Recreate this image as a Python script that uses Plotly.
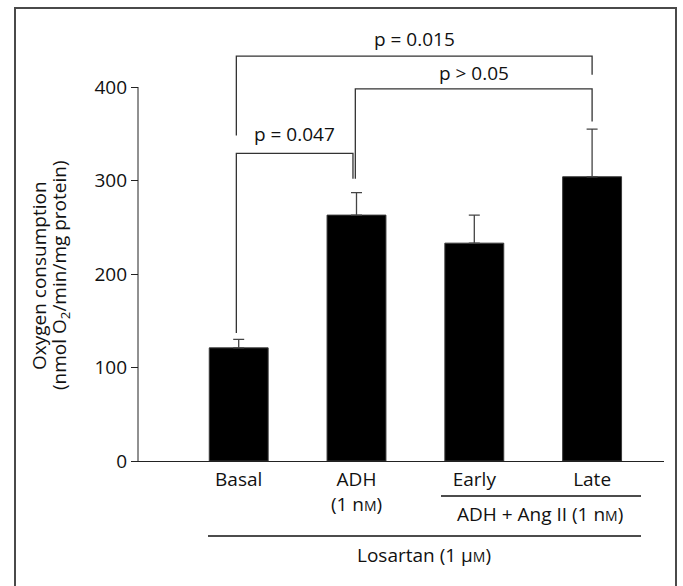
import plotly.graph_objects as go

# ---- data ----
categories = ["Basal", "ADH", "Early", "Late"]
tick_labels = ["Basal", "ADH<br>(1 n<span style='font-size:14px'>M</span>)", "Early", "Late"]
means = [121, 263, 233, 304]
errors = [9, 24, 30, 51]

# comparisons: (left index, right index, label, bracket height, left leg end, right leg end)
cmp_left = [0, 0, 1]
cmp_right = [1, 3, 3]
cmp_labels = ["p = 0.047", "p = 0.015", "p > 0.05"]
cmp_height = [329, 433, 398]
cmp_left_end = [137, 348, 302]
cmp_right_end = [302, 413, 363]
cmp_text_y = [350, 451, 415]
cmp_left_off = [-0.02, -0.02, -0.01]
cmp_right_off = [-0.03, 0.0, 0.0]

y_ticks = [0, 100, 200, 300, 400]

# ---- layout geometry (pixels) ----
W, H = 683, 586
ML, MR, MT, MB = 131, 19, 30, 125
PW, PH = W - ML - MR, H - MT - MB
px_per_unit_x = 117.8
x0_px = 238.7
px_per_unit_y = 0.935

x_lo = (ML - x0_px) / px_per_unit_x
x_hi = (W - MR - x0_px) / px_per_unit_x
y_hi = PH / px_per_unit_y

def xp(px):
    return (px - ML) / PW

def yp(py):
    return (H - MB - py) / PH

FONT = "Open Sans"
TXT = "#111111"
LINE = "#444444"

xs = list(range(len(categories)))

fig = go.Figure()
fig.add_trace(go.Bar(
    x=xs, y=means, width=0.5,
    marker=dict(color="#000000", line=dict(color="#3a3a3a", width=1)),
    error_y=dict(type="data", array=errors, arrayminus=[0] * len(errors), symmetric=False,
                 color=LINE, thickness=1.3, width=5.5),
    showlegend=False,
))

shapes = []
annotations = []

# y axis line (0 to 400)
x_axis_line = (138 - x0_px) / px_per_unit_x
shapes.append(dict(type="line", xref="x", yref="y", x0=x_axis_line, x1=x_axis_line,
                   y0=0, y1=max(y_ticks), line=dict(color="#222222", width=1)))

# comparison brackets
for i in range(len(cmp_labels)):
    xl = xs[cmp_left[i]] + cmp_left_off[i]
    xr = xs[cmp_right[i]] + cmp_right_off[i]
    h = cmp_height[i]
    path = f"M {xl},{cmp_left_end[i]} L {xl},{h} L {xr},{h} L {xr},{cmp_right_end[i]}"
    shapes.append(dict(type="path", xref="x", yref="y", path=path,
                       line=dict(color="#333333", width=1.3)))
    annotations.append(dict(x=(xl + xr) / 2, y=cmp_text_y[i], xref="x", yref="y",
                            text=cmp_labels[i], showarrow=False,
                            font=dict(family=FONT, size=19, color=TXT),
                            xanchor="center", yanchor="middle"))

# grouping lines below axis
shapes.append(dict(type="line", xref="paper", yref="paper", x0=xp(441), x1=xp(641),
                   y0=yp(496), y1=yp(496), line=dict(color="#111111", width=1.3)))
shapes.append(dict(type="line", xref="paper", yref="paper", x0=xp(208), x1=xp(641),
                   y0=yp(536), y1=yp(536), line=dict(color="#111111", width=1.3)))
annotations.append(dict(x=xp(540), y=yp(514), xref="paper", yref="paper",
                        text="ADH + Ang II (1 n<span style='font-size:14px'>M</span>)",
                        showarrow=False, font=dict(family=FONT, size=19, color=TXT),
                        xanchor="center", yanchor="middle"))
annotations.append(dict(x=xp(424), y=yp(555), xref="paper", yref="paper",
                        text="Losartan (1 μ<span style='font-size:14px'>M</span>)",
                        showarrow=False, font=dict(family=FONT, size=19, color=TXT),
                        xanchor="center", yanchor="middle"))

# y-axis title (two lines)
annotations.append(dict(x=xp(39), y=yp(276), xref="paper", yref="paper",
                        text="Oxygen consumption", textangle=-90, showarrow=False,
                        font=dict(family=FONT, size=19, color=TXT),
                        xanchor="center", yanchor="middle"))
annotations.append(dict(x=xp(60), y=yp(275), xref="paper", yref="paper",
                        text="(nmol O<sub>2</sub>/min/mg protein)", textangle=-90, showarrow=False,
                        font=dict(family=FONT, size=19, color=TXT),
                        xanchor="center", yanchor="middle"))

# outer frame
shapes.append(dict(type="rect", xref="paper", yref="paper", x0=xp(15), x1=xp(676),
                   y0=yp(590), y1=yp(8), line=dict(color="#4a4a4a", width=2)))

fig.update_layout(
    width=W, height=H,
    margin=dict(l=ML, r=MR, t=MT, b=MB, pad=0),
    paper_bgcolor="white", plot_bgcolor="white",
    shapes=shapes, annotations=annotations,
    font=dict(family=FONT, size=19, color=TXT),
    xaxis=dict(range=[x_lo, x_hi], tickvals=xs, ticktext=tick_labels,
               showline=True, linecolor="#222222", linewidth=1, ticks="",
               showgrid=False, zeroline=False, ticklabelstandoff=1,
               tickfont=dict(family=FONT, size=19, color=TXT)),
    yaxis=dict(range=[0, y_hi], tickvals=y_ticks, ticks="inside", ticklen=7,
               tickcolor="#222222", tickwidth=1, showline=False, showgrid=False,
               zeroline=False, ticklabelstandoff=3,
               tickfont=dict(family=FONT, size=19, color=TXT)),
    bargap=0.5,
)

fig.write_html("out.html")
